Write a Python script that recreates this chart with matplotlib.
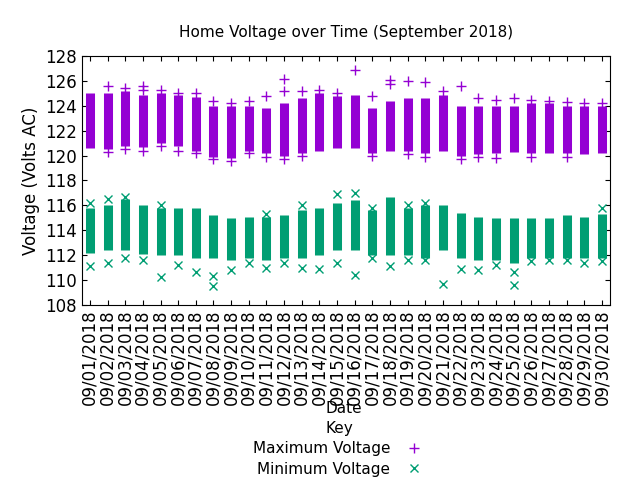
import matplotlib
matplotlib.use("Agg")
import matplotlib.pyplot as plt
import numpy as np

days = [f"09/{d:02d}/2018" for d in range(1, 31)]
max_lo = [120.6,120.5,120.8,120.7,121.0,120.8,120.4,119.9,119.8,120.4,120.2,120.0,120.2,120.4,120.6,
          120.6,120.2,120.4,120.4,120.2,120.4,120.0,120.1,120.2,120.3,120.2,120.2,120.2,120.1,120.2]
max_hi = [125.0,125.0,125.2,124.9,125.0,124.9,124.7,124.0,124.0,124.0,123.8,124.2,124.6,125.0,124.8,
          124.9,123.8,124.4,124.6,124.6,124.9,124.0,124.0,124.0,124.0,124.2,124.2,124.0,124.0,124.0]
max_out = [[], [125.6,120.3], [125.4,120.5], [125.6,125.3,120.4], [125.3,120.8], [125.0,120.4],
           [125.0,120.2], [124.4,119.7], [124.2,119.6], [124.4,120.2], [124.8,119.9], [126.2,125.2,119.7],
           [125.2,120.0], [125.3], [125.0], [126.9], [124.8,120.0], [126.1,125.8], [126.0,120.1],
           [125.9,119.9], [125.2], [125.6,119.7], [124.6,119.9], [124.5,119.8], [124.6], [124.5,119.9],
           [124.4], [124.3,119.9], [124.2], [124.2]]
min_lo = [112.2,112.4,112.4,112.1,112.0,112.0,111.8,111.8,111.6,111.8,111.6,111.8,111.8,112.0,112.4,
          112.4,112.0,112.0,112.0,111.8,112.4,111.8,111.6,111.6,111.4,111.8,111.8,111.8,111.8,111.8]
min_hi = [115.8,116.0,116.5,116.0,115.8,115.8,115.8,115.2,115.0,115.1,115.1,115.2,115.6,115.8,116.2,
          116.4,115.6,116.7,115.8,116.0,116.0,115.4,115.1,115.0,115.0,115.0,115.0,115.2,115.1,115.3]
min_out = [[116.2,111.1], [116.5,111.4], [116.7,111.8], [111.6], [116.0,110.2], [111.2], [110.6],
           [110.3,109.5], [110.8], [111.4], [115.3,111.0], [111.4], [116.0,111.0], [110.9], [116.9,111.4],
           [117.0,110.4], [115.8,111.8], [111.1], [116.0,111.6], [116.2,111.6], [109.7], [110.9], [110.8],
           [111.2], [110.6,109.6], [111.5], [111.6], [111.6], [111.4], [115.8,111.5]]

purple = "#9400d3"
green = "#009e73"

fig = plt.figure(figsize=(6.4, 4.8), dpi=100)
ax = fig.add_axes([0.128, 0.365, 0.825, 0.518])
x = np.arange(len(days))
ax.vlines(x, max_lo, max_hi, color=purple, lw=6.5)
ax.vlines(x, min_lo, min_hi, color=green, lw=6.5)
for i in x:
    if max_out[i]:
        ax.plot([i]*len(max_out[i]), max_out[i], '+', color=purple, ms=7, mew=1)
    if min_out[i]:
        ax.plot([i]*len(min_out[i]), min_out[i], 'x', color=green, ms=6, mew=1)
hp, = ax.plot([], [], '+', color=purple, ms=7, label="Maximum Voltage")
hm, = ax.plot([], [], 'x', color=green, ms=6, label="Minimum Voltage")

ax.set_xlim(-0.45, len(days) - 0.55)
ax.set_ylim(108, 128)
ax.set_yticks(np.arange(108, 129, 2))
ax.set_xticks(x)
ax.set_xticklabels(days, rotation=90, fontsize=12)
ax.tick_params(axis='y', labelsize=12)
ax.tick_params(direction='in', top=True, right=True)
ax.set_title("Home Voltage over Time (September 2018)", fontsize=11, pad=14)
ax.set_ylabel("Voltage (Volts AC)", fontsize=12)
fig.text(0.537, 0.148, "Date", ha='center', va='center', fontsize=11)
leg = fig.legend(handles=[hp, hm], loc='center', bbox_to_anchor=(0.53, 0.065), title="Key",
                 frameon=False, fontsize=11, title_fontsize=11, markerfirst=False,
                 handlelength=1.5, labelspacing=0.35, borderpad=0)
fig.savefig("out.png", dpi=100)
